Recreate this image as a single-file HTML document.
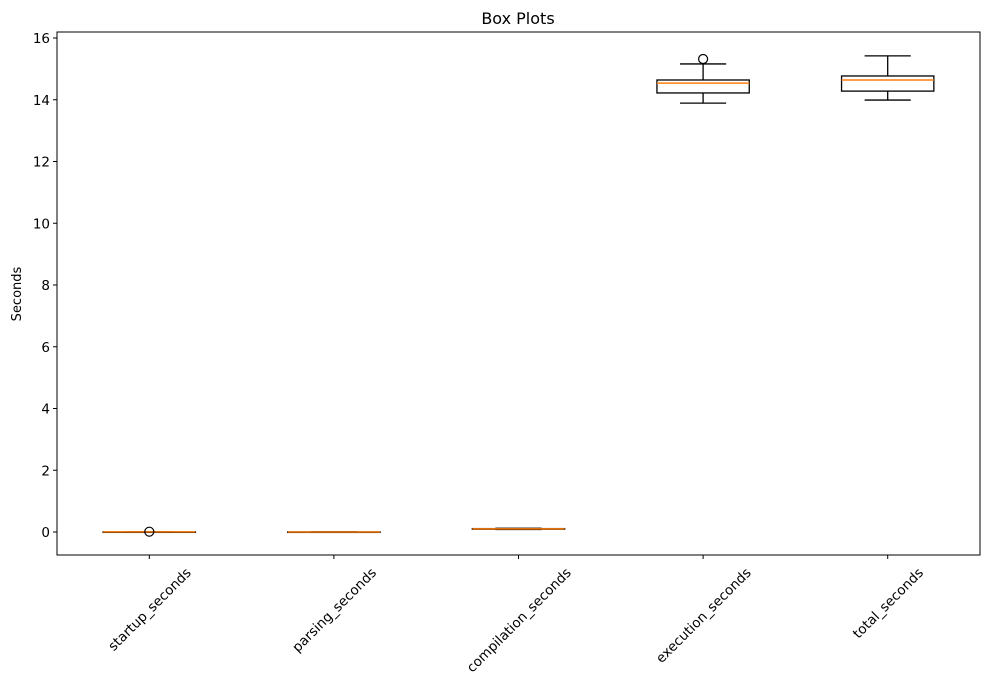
<!DOCTYPE html>
<html><head><meta charset="utf-8"><style>
body{margin:0;background:#fff;font-family:"Liberation Sans","DejaVu Sans",sans-serif}
svg text{font-family:"DejaVu Sans","Liberation Sans",sans-serif}
</style></head><body>
<svg id="chart" width="989" height="688" xmlns="http://www.w3.org/2000/svg"></svg>
<script>
const categories=["startup_seconds","parsing_seconds","compilation_seconds","execution_seconds","total_seconds"];
const whiskerLow=[0.0,0.0,0.08,13.89,13.99];
const q1=[0.002,0.001,0.09,14.22,14.28];
const medians=[0.003,0.002,0.10,14.54,14.64];
const q3=[0.004,0.003,0.11,14.64,14.77];
const whiskerHigh=[0.006,0.004,0.12,15.16,15.42];
const outliers=[[0.01],[],[],[15.32],[]];
const yTicks=[0,2,4,6,8,10,12,14,16];

const L=57,R=980,T=32,B=555;
const sy=v=>532-30.875*v;
const sx=i=>L+(i+0.5)*(R-L)/5;
const halfW=0.25*(R-L)/5;
const svg=document.getElementById('chart');
const NS="http://www.w3.org/2000/svg";
function mk(tag,attrs,parent){const e=document.createElementNS(NS,tag);for(const k in attrs)e.setAttribute(k,attrs[k]);(parent||svg).appendChild(e);return e;}

const title=mk('text',{x:518,y:24,'text-anchor':'middle','font-size':'16'});title.textContent="Box Plots";


const yl=mk('text',{x:0,y:0,transform:'translate(21,294) rotate(-90)','text-anchor':'middle','font-size':'13'});yl.textContent="Seconds";



yTicks.forEach(t=>{
  const g=mk('g',{});
  
  
  mk('line',{x1:L-4,x2:L,y1:sy(t),y2:sy(t),stroke:'#000','stroke-width':1},g);
  const tx=mk('text',{x:L-7,y:sy(t)+5,'text-anchor':'end','font-size':'13.5'},g);tx.textContent=t;
});

categories.forEach((c,i)=>{
  const x=sx(i);
  const g=mk('g',{});
  
  
  const st={stroke:'#000','stroke-width':1.3,fill:'none'};
  mk('line',Object.assign({x1:x,x2:x,y1:sy(q1[i]),y2:sy(whiskerLow[i])},st),g);
  mk('line',Object.assign({x1:x,x2:x,y1:sy(q3[i]),y2:sy(whiskerHigh[i])},st),g);
  mk('line',Object.assign({x1:x-halfW/2,x2:x+halfW/2,y1:sy(whiskerLow[i]),y2:sy(whiskerLow[i])},st),g);
  mk('line',Object.assign({x1:x-halfW/2,x2:x+halfW/2,y1:sy(whiskerHigh[i]),y2:sy(whiskerHigh[i])},st),g);
  mk('rect',Object.assign({x:x-halfW,y:sy(q3[i]),width:2*halfW,height:Math.max(0.5,sy(q1[i])-sy(q3[i]))},st),g);
  mk('line',{x1:x-halfW,x2:x+halfW,y1:sy(medians[i]),y2:sy(medians[i]),stroke:'#ff7f0e','stroke-width':1.5},g);
  outliers[i].forEach(o=>{mk('circle',{cx:x,cy:sy(o),r:4.5,fill:'none',stroke:'#000','stroke-width':1.2},g);});
  mk('line',{x1:x,x2:x,y1:B,y2:B+4,stroke:'#000'},g);
  const lab=mk('text',{x:0,y:5,'text-anchor':'middle','font-size':'13.5'},g);
  lab.textContent=c;
  const len=lab.getComputedTextLength();
  const half=(len+14)*Math.SQRT1_2/2;
  lab.setAttribute('transform',`translate(${x},${B+10+half}) rotate(-45)`);
});

const frame=mk('rect',{x:L,y:T,width:R-L,height:B-T,fill:'none',stroke:'#000','stroke-width':1});


</script>
</body></html>
